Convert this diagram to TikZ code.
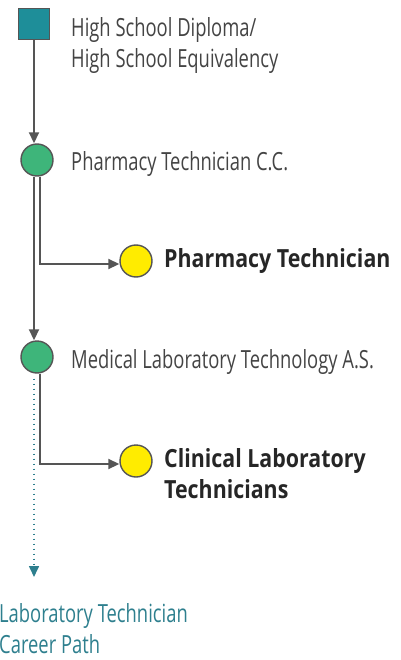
\documentclass[tikz,border=0pt]{standalone}
\usepackage{fontspec}
\setmainfont[UprightFeatures={FakeStretch=0.735},BoldFeatures={FakeStretch=0.855}]{Open Sans}
\usetikzlibrary{arrows.meta}
\definecolor{sqteal}{HTML}{1E8E99}
\definecolor{cgreen}{HTML}{3EB57A}
\definecolor{cyellow}{HTML}{FFEC00}
\definecolor{edge}{HTML}{555555}
\definecolor{txt}{HTML}{444444}
\definecolor{pathteal}{HTML}{2E7F8E}
\tikzset{
  sq/.style={draw=edge, line width=1.4pt, fill=sqteal, minimum size=31pt, inner sep=0pt},
  dot/.style={circle, draw=edge, line width=1.4pt, minimum size=32pt, inner sep=0pt},
  green/.style={dot, fill=cgreen},
  yel/.style={dot, fill=cyellow},
  lbl/.style={anchor=base west, inner sep=0pt, text=txt, font=\fontsize{25}{31}\selectfont, align=left},
  blbl/.style={anchor=base west, inner sep=0pt, text=black!85, font=\fontsize{25}{31}\selectfont\bfseries, align=left},
  conn/.style={draw=edge, line width=1.8pt, -{Triangle[length=11pt,width=10pt]}},
  dotconn/.style={draw=pathteal, line width=1.6pt, dash pattern=on 1.6pt off 3.4pt, -{Triangle[length=11pt,width=10pt]}}
}
\begin{document}
\begin{tikzpicture}[x=1pt,y=-1pt]
\useasboundingbox (0,0) rectangle (400,660);
\node[sq] (hs) at (34,24) {};
\node[lbl] (hst) at (71,68) {High School Diploma/\\High School Equivalency};
\node[green] (pc) at (37,160) {};
\node[lbl] (pct) at (71,171) {Pharmacy Technician C.C.};
\node[yel] (ph) at (136,261) {};
\node[blbl] (pht) at (164,267) {Pharmacy Technician};
\node[green] (ml) at (37,357) {};
\node[lbl] (mlt) at (71,368) {Medical Laboratory Technology A.S.};
\node[yel] (cl) at (136,461) {};
\node[blbl] (clt) at (164,498) {Clinical Laboratory\\Technicians};
\coordinate (end) at (34,577);
\node[lbl, text=pathteal] (lt) at (-1,653) {Laboratory Technician\\Career Path};
\draw[conn] (hs.south) -- (hs.south |- pc.north);
\draw[conn] ([xshift=-3pt]pc.south) -- ([xshift=-3pt]ml.north);
\draw[conn] ([xshift=3pt]pc.south) |- ([yshift=-3pt]ph.west);
\draw[conn] ([xshift=3pt]ml.south) |- ([yshift=-3pt]cl.west);
\draw[dotconn] ([xshift=-3pt,yshift=-5pt]ml.south) -- (end);
\end{tikzpicture}
\end{document}
